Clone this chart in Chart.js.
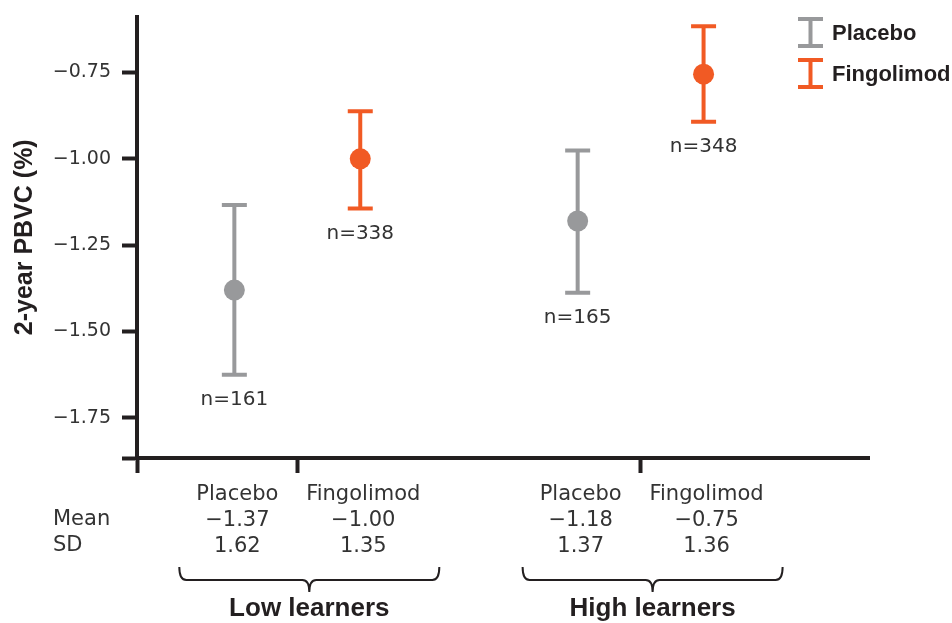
<!DOCTYPE html>
<html>
<head>
<meta charset="utf-8">
<script src="https://cdn.jsdelivr.net/npm/chart.js@4.4.1/dist/chart.umd.min.js"></script>
<style>
html,body{margin:0;padding:0;background:#fff;}
#wrap{position:relative;width:952px;height:623px;}
#legend{position:absolute;left:798px;top:17px;font:bold 22px "Liberation Sans",Arial,sans-serif;color:#231f20;}
.leg-row{display:flex;align-items:center;height:31px;margin-bottom:10px;}
.leg-row svg{margin-right:9px;display:block;}
</style>
</head>
<body>
<div id="wrap">
  <canvas id="c" width="952" height="623"></canvas>
  <div id="legend"></div>
</div>
<script>
// ─── data ───────────────────────────────────────────
const groups=['Low learners','High learners'];
const series=['Placebo','Fingolimod'];
const yTickValues=[-1.75,-1.5,-1.25,-1.0,-0.75];
// plotted means and interval ends
const placeboMean=[-1.38,-1.18];
const placeboLo=[-1.625,-1.388];
const placeboHi=[-1.134,-0.976];
const fingoMean=[-1.00,-0.755];
const fingoLo=[-1.144,-0.893];
const fingoHi=[-0.862,-0.616];
const placeboN=[161,165];
const fingoN=[338,348];
// table under the axis
const placeboTabMean=['−1.37','−1.18'];
const placeboTabSD=['1.62','1.37'];
const fingoTabMean=['−1.00','−0.75'];
const fingoTabSD=['1.35','1.36'];

// ─── layout ─────────────────────────────────────────
const GROUP_X=[2.19,6.88];
const DODGE=0.86;
const Y_MIN=-1.866, Y_MAX=-0.588;
const COLORS=['#98999b','#f15a24'];
const INK='#231f20';
const TXT='#333';
const LIGHT='"DejaVu Sans", sans-serif';
const BOLD='"Liberation Sans", Arial, sans-serif';

const S=[
  {name:series[0],color:COLORS[0],mean:placeboMean,lo:placeboLo,hi:placeboHi,n:placeboN,tm:placeboTabMean,sd:placeboTabSD,dx:-DODGE},
  {name:series[1],color:COLORS[1],mean:fingoMean,lo:fingoLo,hi:fingoHi,n:fingoN,tm:fingoTabMean,sd:fingoTabSD,dx:DODGE}
];
const xOf=(s,g)=>GROUP_X[g]+s.dx;

const datasets=[];
S.forEach(s=>datasets.push({
  type:'scatter',label:s.name,order:0,
  data:s.mean.map((v,g)=>({x:xOf(s,g),y:v})),
  pointStyle:'circle',pointRadius:10.5,pointHoverRadius:10.5,
  pointBackgroundColor:s.color,pointBorderWidth:0
}));
S.forEach(s=>datasets.push({
  type:'scatter',label:s.name+' caps',order:1,
  data:s.lo.flatMap((v,g)=>[{x:xOf(s,g),y:v},{x:xOf(s,g),y:s.hi[g]}]),
  pointStyle:'line',pointRadius:12.5,pointHoverRadius:12.5,
  pointBorderColor:s.color,pointBorderWidth:4
}));
S.forEach(s=>datasets.push({
  type:'line',label:s.name+' bars',order:2,
  data:s.lo.flatMap((v,g)=>[{x:xOf(s,g),y:v},{x:xOf(s,g),y:s.hi[g]},{x:xOf(s,g),y:null}]),
  borderColor:s.color,borderWidth:4,pointRadius:0,spanGaps:false
}));

function brace(ctx,cx,hw,top,mid,tip){
  const L=cx-hw,R=cx+hw,r=7;
  ctx.beginPath();
  ctx.moveTo(L,top);ctx.quadraticCurveTo(L,mid,L+r,mid);ctx.lineTo(cx-r,mid);ctx.quadraticCurveTo(cx,mid,cx,tip);
  ctx.moveTo(R,top);ctx.quadraticCurveTo(R,mid,R-r,mid);ctx.lineTo(cx+r,mid);ctx.quadraticCurveTo(cx,mid,cx,tip);
  ctx.stroke();
}

const annot={id:'annot',afterDraw(chart){
  const {ctx,scales:{x,y}}=chart;
  ctx.save();
  ctx.textAlign='center';ctx.textBaseline='middle';ctx.fillStyle=TXT;
  ctx.font='20px '+LIGHT;
  S.forEach(s=>s.n.forEach((n,g)=>{
    ctx.fillText('n='+n,x.getPixelForValue(xOf(s,g)),y.getPixelForValue(s.lo[g])+25);
  }));
  ctx.font='21px '+LIGHT;
  S.forEach(s=>groups.forEach((_,g)=>{
    const px=x.getPixelForValue(xOf(s,g))+3;
    ctx.fillText(s.name,px,495);
    ctx.fillText(s.tm[g],px,521);
    ctx.fillText(s.sd[g],px,547);
  }));
  ctx.textAlign='left';
  ctx.fillText('Mean',53,520);
  ctx.fillText('SD',53,546);
  ctx.strokeStyle=INK;ctx.lineWidth=2;
  groups.forEach((name,g)=>{
    const cx=(x.getPixelForValue(xOf(S[0],g))+x.getPixelForValue(xOf(S[1],g)))/2+12;
    brace(ctx,cx,130,567,580,592);
    ctx.font='bold 26px '+BOLD;ctx.textAlign='center';ctx.fillStyle=INK;
    ctx.fillText(name,cx,609);
  });
  ctx.restore();
}};

new Chart(document.getElementById('c'),{
  data:{datasets},
  options:{
    responsive:false,animation:false,events:[],
    layout:{padding:{top:11,right:83,bottom:150,left:0}},
    plugins:{legend:{display:false},tooltip:{enabled:false}},
    scales:{
      x:{
        type:'linear',min:0,max:10,
        afterBuildTicks:sc=>{sc.ticks=[0,...GROUP_X].map(v=>({value:v}));},
        afterFit:sc=>{sc.height=15;},
        ticks:{callback:()=>''},
        grid:{drawOnChartArea:false,tickLength:15,tickWidth:4,tickColor:INK},
        border:{width:4,color:INK}
      },
      y:{
        type:'linear',min:Y_MIN,max:Y_MAX,
        afterBuildTicks:sc=>{sc.ticks=[sc.min,...yTickValues].map(v=>({value:v}));},
        afterFit:sc=>{sc.width=137;sc.paddingTop=0;sc.paddingBottom=0;},
        ticks:{
          padding:11,color:TXT,font:{family:LIGHT,size:19,lineHeight:1},
          callback:v=>v===Y_MIN?'':'−'+Math.abs(v).toFixed(2)
        },
        grid:{drawOnChartArea:false,tickLength:15,tickWidth:4,tickColor:INK},
        border:{width:4,color:INK},
        title:{display:true,text:'2-year PBVC (%)',color:INK,font:{family:BOLD,size:25,weight:'bold'},padding:{top:10,bottom:0}}
      }
    }
  },
  plugins:[annot]
});

// legend
document.getElementById('legend').innerHTML=S.map(s=>
  `<div class="leg-row"><svg width="25" height="31"><line x1="0" y1="2" x2="25" y2="2" stroke="${s.color}" stroke-width="4"/><line x1="12.5" y1="2" x2="12.5" y2="29" stroke="${s.color}" stroke-width="4"/><line x1="0" y1="29" x2="25" y2="29" stroke="${s.color}" stroke-width="4"/></svg>${s.name}</div>`
).join('');
</script>
</body>
</html>
